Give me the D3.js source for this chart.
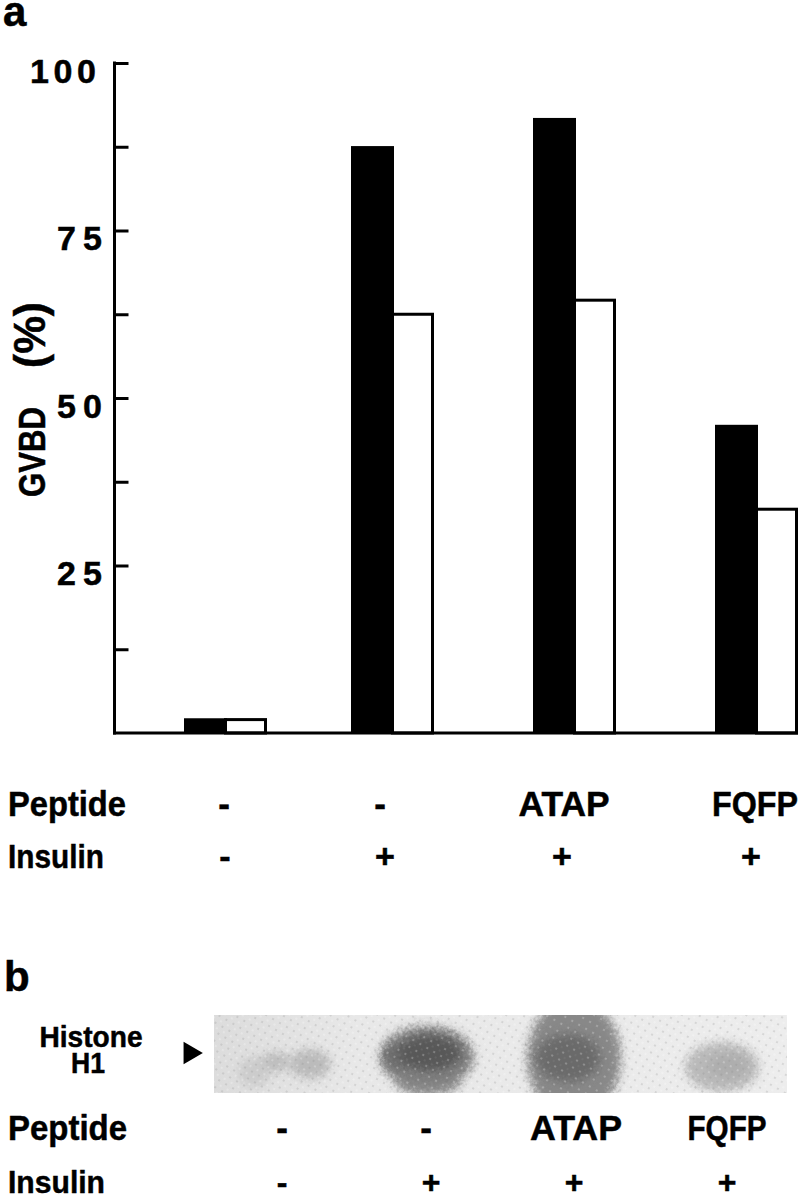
<!DOCTYPE html>
<html>
<head>
<meta charset="utf-8">
<script src="https://cdnjs.cloudflare.com/ajax/libs/d3/7.8.5/d3.min.js"></script>
<style>
  html, body { margin: 0; padding: 0; background: #fff; }
  svg { display: block; }
  text { font-family: "Liberation Sans", Arial, sans-serif; font-weight: bold; fill: #000; stroke: #000; stroke-width: 0.5; }
</style>
</head>
<body>
<svg id="fig" width="800" height="1196"></svg>
<script>
// values
const groups = ['none', 'insulin', 'atap', 'fqfp'];
const filledValues = [2.2, 87.6, 91.8, 46];
const openValues = [2, 62.5, 64.6, 33.4];
const yTicks = [12.5, 25, 37.5, 50, 62.5, 75, 87.5, 100];
const yLabels = [25, 50, 75, 100];
const peptideLabels = ['-', '-', 'ATAP', 'FQFP'];
const insulinLabels = ['-', '+', '+', '+'];
const bandDensity = [0.2, 0.78, 0.68, 0.27];

const svg = d3.select('#fig');
const defs = svg.append('defs');

// squeeze a word to the width it has in the figure
function fit(sel, w) {
    return sel.attr('textLength', w).attr('lengthAdjust', 'spacingAndGlyphs');
}

// ---- panel a
const y = d3.scaleLinear().domain([0, 100]).range([733, 63]);
const groupX = d3.scaleOrdinal().domain(groups).range([184, 351, 533, 715]);
const filledW = 43, openW = 40;

svg.append('text').text('a').attr('x', 3).attr('y', 26).attr('font-size', 42);

svg.append('g')
    .attr('transform', 'translate(114.5,0)')
    .call(d3.axisLeft(y).tickValues(yTicks).tickSize(-14).tickFormat(''))
    .call(g => {
        g.select('.domain').attr('stroke', '#000').attr('stroke-width', 3).attr('d', 'M0,61.5V734.5')
        g.selectAll('.tick line').attr('stroke', '#000').attr('stroke-width', 3)
    });

svg.selectAll('.ylab')
    .data(yLabels)
    .enter().append('text')
    .attr('class', 'ylab')
    .attr('x', d => d === 100 ? 30 : 57)
    .attr('y', d => y(d) + 19.5)
    .attr('font-size', 34)
    .attr('textLength', d => d === 100 ? 66 : 45)
    .text(d => d);

fit(svg.append('text')
    .attr('transform', 'translate(45,452) rotate(-90)')
    .attr('text-anchor', 'middle')
    .attr('font-size', 36)
    .text('GVBD'), 90);
fit(svg.append('text')
    .attr('transform', 'translate(45,335) rotate(-90)')
    .attr('text-anchor', 'middle')
    .attr('font-size', 44)
    .text('(%)'), 66);

// open bars first, the black ones sit on their left edge
svg.selectAll('.open')
    .data(groups)
    .enter().append('rect')
    .attr('class', 'open')
    .attr('x', d => groupX(d) + filledW - 1.5)
    .attr('y', (d, i) => y(openValues[i]))
    .attr('width', openW)
    .attr('height', (d, i) => y(0) - y(openValues[i]))
    .attr('fill', '#fff')
    .attr('stroke', '#000')
    .attr('stroke-width', 3);
svg.selectAll('.filled')
    .data(groups)
    .enter().append('rect')
    .attr('class', 'filled')
    .attr('x', d => groupX(d))
    .attr('y', (d, i) => y(filledValues[i]))
    .attr('width', filledW)
    .attr('height', (d, i) => y(0) - y(filledValues[i]))
    .attr('fill', '#000');

svg.append('line')
    .attr('x1', 113).attr('x2', 798)
    .attr('y1', y(0)).attr('y2', y(0))
    .attr('stroke', '#000').attr('stroke-width', 3);

// row of labels under a panel
function labelRow(name, nameW, labels, xs, widths, baseline, size) {
    fit(svg.append('text').text(name)
        .attr('x', 8).attr('y', baseline)
        .attr('font-size', size), nameW);
    labels.forEach((d, i) => {
        const t = svg.append('text').text(d)
            .attr('x', xs[i])
            .attr('y', baseline)
            .attr('text-anchor', 'middle')
            .attr('font-size', size);
        if (d.length > 1) fit(t, widths[i]);
    });
}
labelRow('Peptide', 118, peptideLabels, [224, 380, 564, 755], [0, 0, 91, 86], 816, 35);
labelRow('Insulin', 96, insulinLabels, [225, 385, 562, 751], [], 868, 34);

// ---- panel b
svg.append('text').text('b').attr('x', 4).attr('y', 991).attr('font-size', 42);

const histone = svg.append('text').attr('font-size', 29).attr('text-anchor', 'middle');
fit(histone.append('tspan').text('Histone').attr('x', 91).attr('y', 1047), 103);
fit(histone.append('tspan').text('H1').attr('x', 88).attr('y', 1073), 34);

svg.append('path')
    .attr('d', d3.symbol(d3.symbolTriangle, 215))
    .attr('transform', 'translate(190,1053) rotate(90)')
    .attr('fill', '#000');

const grey = d3.scaleLinear().domain([0, 1]).range([225, 50]);
const bg = defs.append('linearGradient').attr('id', 'blotBg');
bg.append('stop').attr('offset', '0%').attr('stop-color', '#dcdcdc');
bg.append('stop').attr('offset', '25%').attr('stop-color', '#e8e8e8');
bg.append('stop').attr('offset', '100%').attr('stop-color', '#ededed');

defs.append('clipPath').attr('id', 'blotClip')
    .append('rect').attr('x', 214).attr('y', 1015).attr('width', 573).attr('height', 78);

// mottled soft edges for the bands
const soft = defs.append('filter').attr('id', 'soft')
    .attr('x', '-40%').attr('y', '-40%').attr('width', '180%').attr('height', '180%');
soft.append('feGaussianBlur').attr('stdDeviation', 5).attr('result', 'b');
soft.append('feTurbulence').attr('type', 'fractalNoise').attr('baseFrequency', 0.3)
    .attr('numOctaves', 2).attr('seed', 4).attr('result', 'n');
soft.append('feDisplacementMap').attr('in', 'b').attr('in2', 'n').attr('scale', 9)
    .attr('xChannelSelector', 'R').attr('yChannelSelector', 'G');

// halftone left over from the scan
const dots = defs.append('pattern').attr('id', 'halftone')
    .attr('width', 8).attr('height', 8)
    .attr('patternUnits', 'userSpaceOnUse')
    .attr('patternTransform', 'rotate(30)');
dots.append('circle').attr('cx', 2).attr('cy', 2).attr('r', 1).attr('fill', '#888').attr('fill-opacity', 0.3);
dots.append('circle').attr('cx', 6).attr('cy', 6).attr('r', 1.1).attr('fill', '#fff').attr('fill-opacity', 0.3);

const blot = svg.append('g').attr('clip-path', 'url(#blotClip)');
blot.append('rect')
    .attr('x', 214).attr('y', 1015).attr('width', 573).attr('height', 78)
    .attr('fill', 'url(#blotBg)');

// blob layout per lane: lane index, centre, radii, share of the band's density
const spotLayout = [
    [0, 254, 1072, 16, 15, 0.6], [0, 276, 1062, 15, 10, 1], [0, 310, 1064, 21, 15, 1.1],
    [1, 428, 1082, 32, 15, 0.55],
    [1, 427, 1057, 47, 31, 0.72], [1, 398, 1056, 14, 13, 0.85], [1, 430, 1053, 31, 18, 1],
    [2, 574, 1058, 47, 60, 0.75], [2, 568, 1058, 32, 24, 1],
    [3, 722, 1067, 37, 25, 0.85], [3, 728, 1066, 20, 12, 1.1]
];
blot.selectAll('.spot')
    .data(spotLayout)
    .enter().append('ellipse')
    .attr('class', 'spot')
    .attr('cx', d => d[1])
    .attr('cy', d => d[2])
    .attr('rx', d => d[3])
    .attr('ry', d => d[4])
    .attr('fill', d => {
        const v = Math.round(grey(bandDensity[d[0]] * d[5]));
        return `rgb(${v},${v},${v})`;
    })
    .attr('filter', 'url(#soft)');

blot.append('rect')
    .attr('x', 214).attr('y', 1015).attr('width', 573).attr('height', 78)
    .attr('fill', 'url(#halftone)');

labelRow('Peptide', 119, peptideLabels, [282, 426, 576, 727], [0, 0, 92, 79], 1140, 35);
labelRow('Insulin', 97, insulinLabels, [282, 431, 574, 727], [], 1193, 32);
</script>
</body>
</html>
